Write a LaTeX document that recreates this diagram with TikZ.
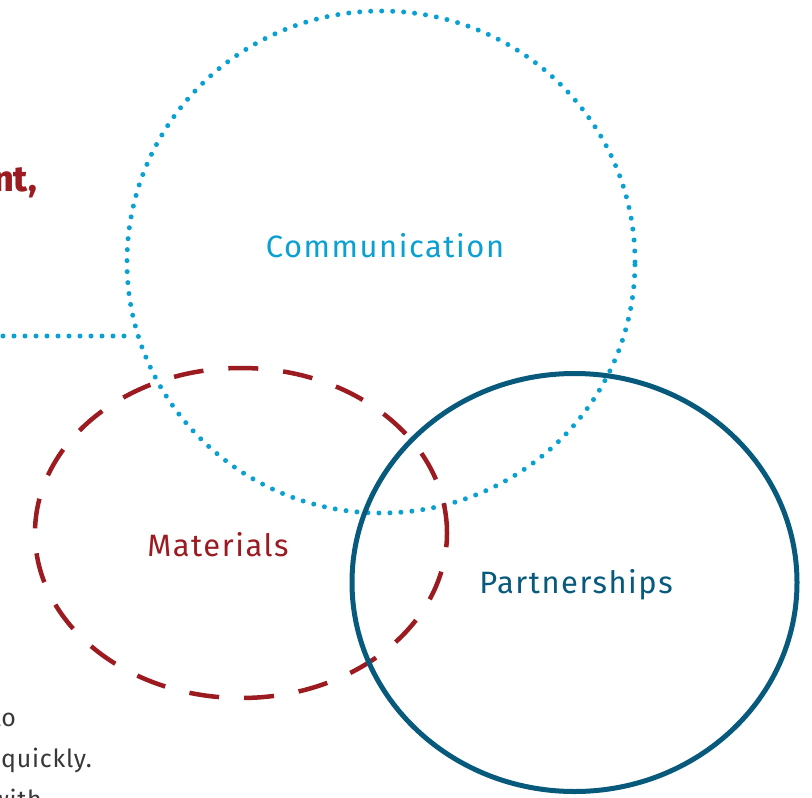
\documentclass[tikz,border=0pt]{standalone}
\usepackage{fontspec}
\setmainfont{Fira Sans}
\newfontfamily\labelfont{Fira Sans}[LetterSpace=5]
\newfontfamily\bodyfont{Fira Sans}[LetterSpace=3]
\newfontfamily\headfont{Fira Sans ExtraBold}
\usetikzlibrary{shapes.geometric}
\definecolor{commblue}{RGB}{10,160,210}
\definecolor{matred}{RGB}{155,27,32}
\definecolor{partteal}{RGB}{8,90,125}
\definecolor{bodygray}{RGB}{55,55,55}
\tikzset{
  setshape/.style={ellipse, inner sep=0pt, outer sep=0pt},
  dotline/.style={draw=commblue, line width=5bp, line cap=round, dash pattern=on 0bp off 11bp},
  commset/.style={setshape, dotline},
  matset/.style={setshape, draw=matred, line width=4.5bp, dash pattern=on 30bp off 25bp},
  partset/.style={setshape, draw=partteal, line width=5bp},
  setlabel/.style={font=\labelfont\fontsize{31}{33}\selectfont, inner sep=0pt},
  bodytext/.style={font=\bodyfont\fontsize{25}{30}\selectfont, text=bodygray, inner sep=0pt, anchor=base east},
}
\begin{document}
\begin{tikzpicture}[x=1bp,y=-1bp]
\useasboundingbox (0,0) rectangle (812,798);
\clip (0,0) rectangle (812,798);
% sets
\node[commset, minimum width=508bp, minimum height=502bp] (comm) at (381,262) {};
\node[matset, minimum width=412bp, minimum height=330bp] (mat) at (241,533) {};
\node[partset, minimum width=445bp, minimum height=418bp] (part) at (574.5,582.5) {};
% labels
\node[setlabel, text=commblue] (commlabel) at (385,246) {Communication};
\node[setlabel, text=matred] (matlabel) at (218,545) {Materials};
\node[setlabel, text=partteal] (partlabel) at (576,585) {Partnerships};
% dotted leader line
\coordinate (leadstart) at (-2,336);
\coordinate (leadend) at (124,336);
\draw[dotline] (leadend) -- (leadstart);
% cropped heading and paragraph fragments
\node[font=\headfont\fontsize{36}{40}\selectfont, text=matred, inner sep=0pt, anchor=base east] (headfrag) at (37,191) {ment,};
\node[bodytext] (line1) at (16,726) {to};
\node[bodytext] (line2) at (92,767) {quickly.};
\node[bodytext] (line3) at (42,808) {with};
\end{tikzpicture}
\end{document}
